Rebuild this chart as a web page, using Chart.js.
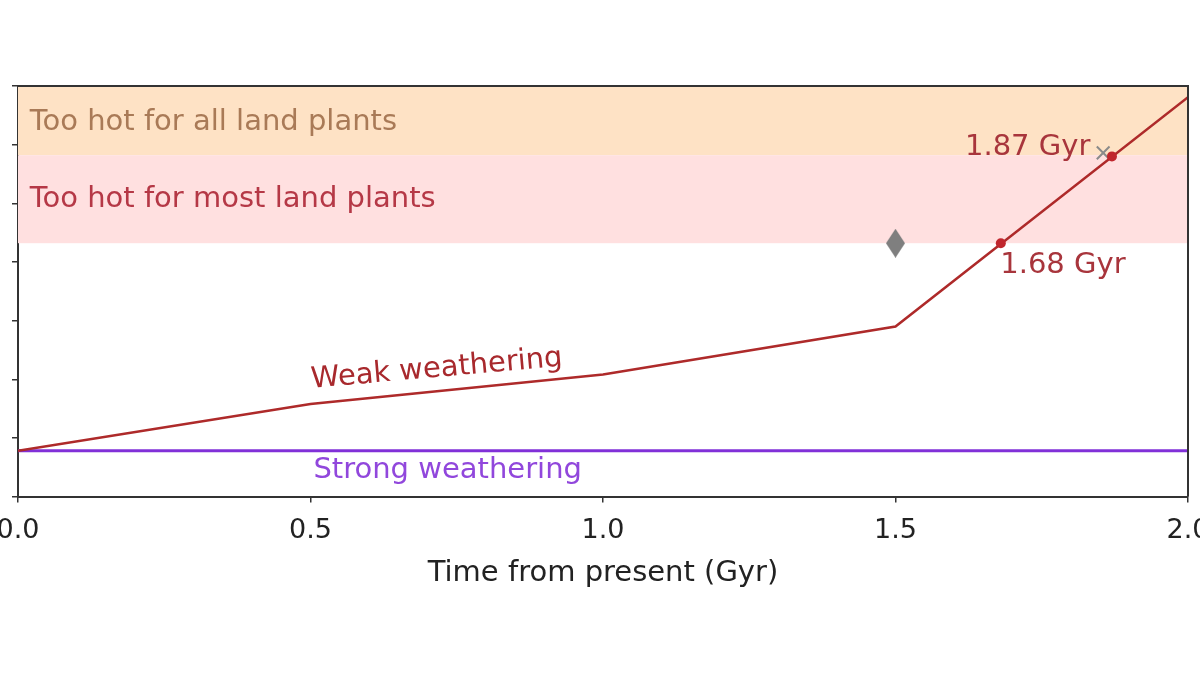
<!DOCTYPE html>
<html>
<head>
<meta charset="utf-8">
<script src="https://cdn.jsdelivr.net/npm/chart.js@4.4.1/dist/chart.umd.min.js"></script>
<style>
  html, body { margin: 0; padding: 0; background: #fff; overflow: hidden; }
  body { width: 1200px; height: 675px; position: relative; }
  /* canvas is wider than the window so the y labels fall off the left edge, like the cropped original */
  #wrap { position: absolute; left: -60px; top: 0; width: 1320px; height: 675px; }
</style>
</head>
<body>
<div id="wrap"><canvas id="chart"></canvas></div>
<script>
// Time from present (Gyr)
const timeGyr = [0, 0.5, 1.0, 1.5, 2.0];
// values in y tick units (the y labels are cropped out of the original)
const weakWeathering = [0.78, 1.58, 2.08, 2.90, 6.81];
const strongWeathering = [0.78, 0.78, 0.78, 0.78, 0.78];
// where weak weathering crosses the plant limits
const crossTimes = [1.68, 1.87];
const crossValues = [4.32, 5.80];
const diamondTime = [1.5];
const diamondValue = [4.32];
const crossMarkTime = [1.855];
const crossMarkValue = [5.86];
// band limits
const mostPlantsLimit = 4.32;
const allPlantsLimit = 5.82;
const yMax = 7;
const xTicks = [0, 0.5, 1.0, 1.5, 2.0];
const yTicks = [0, 1, 2, 3, 4, 5, 6, 7];

const FONT = '"DejaVu Sans", "Liberation Sans", sans-serif';

function pts(xs, ys) {
    return xs.map((x, i) => ({ x: x, y: ys[i] }));
}

// thin diamond marker (matplotlib 'd')
const diamond = document.createElement('canvas');
diamond.width = 19;
diamond.height = 29;
(function () {
    const c = diamond.getContext('2d');
    c.fillStyle = '#7f7f7f';
    c.beginPath();
    c.moveTo(9.5, 0);
    c.lineTo(19, 14.5);
    c.lineTo(9.5, 29);
    c.lineTo(0, 14.5);
    c.closePath();
    c.fill();
})();

const notes = [
    { text: 'Too hot for all land plants', x: 0.02, y: 6.37, color: '#a97a57', align: 'left', rot: 0 },
    { text: 'Too hot for most land plants', x: 0.02, y: 5.07, color: '#b53846', align: 'left', rot: 0 },
    { text: '1.87 Gyr', x: 1.833, y: 5.96, color: '#a8353c', align: 'right', rot: 0 },
    { text: '1.68 Gyr', x: 1.679, y: 3.94, color: '#a8353c', align: 'left', rot: 0 },
    { text: 'Weak weathering', x: 0.716, y: 2.17, color: '#a8292d', align: 'center', rot: -5 },
    { text: 'Strong weathering', x: 0.505, y: 0.44, color: '#9147dc', align: 'left', rot: 0 }
];

const bandsPlugin = {
    id: 'bands',
    beforeDatasetsDraw(chart) {
        const { ctx, chartArea, scales } = chart;
        const yAll = scales.y.getPixelForValue(allPlantsLimit);
        const yMost = scales.y.getPixelForValue(mostPlantsLimit);
        const yTop = scales.y.getPixelForValue(yMax);
        ctx.save();
        ctx.fillStyle = '#fee2c5';
        ctx.fillRect(chartArea.left, yTop, chartArea.right - chartArea.left, yAll - yTop);
        ctx.fillStyle = '#ffe0e0';
        ctx.fillRect(chartArea.left, yAll, chartArea.right - chartArea.left, yMost - yAll);
        ctx.restore();
    },
    afterDatasetsDraw(chart) {
        const { ctx, chartArea, scales } = chart;
        ctx.save();
        ctx.font = '29px ' + FONT;
        ctx.textBaseline = 'middle';
        notes.forEach(n => {
            ctx.save();
            ctx.translate(scales.x.getPixelForValue(n.x), scales.y.getPixelForValue(n.y));
            ctx.rotate(n.rot * Math.PI / 180);
            ctx.fillStyle = n.color;
            ctx.textAlign = n.align;
            ctx.fillText(n.text, 0, 0);
            ctx.restore();
        });
        // top and right spines
        ctx.strokeStyle = '#333';
        ctx.lineWidth = 2;
        ctx.beginPath();
        ctx.moveTo(chartArea.left, chartArea.top);
        ctx.lineTo(chartArea.right, chartArea.top);
        ctx.lineTo(chartArea.right, chartArea.bottom);
        ctx.stroke();
        ctx.restore();
    }
};

const ctx = document.getElementById('chart').getContext('2d');
new Chart(ctx, {
    type: 'scatter',
    data: {
        datasets: [
            {
                data: pts(crossTimes, crossValues),
                pointStyle: 'circle',
                pointRadius: 5,
                pointBackgroundColor: '#c0262d',
                pointBorderWidth: 0
            },
            {
                data: pts(timeGyr, weakWeathering),
                showLine: true,
                borderColor: '#ae2a2a',
                borderWidth: 2.5,
                pointRadius: 0
            },
            {
                data: pts(crossMarkTime, crossMarkValue),
                pointStyle: 'crossRot',
                pointRadius: 9,
                pointBorderColor: '#8a8a8a',
                pointBorderWidth: 2
            },
            {
                data: pts(diamondTime, diamondValue),
                pointStyle: diamond
            },
            {
                data: pts(timeGyr, strongWeathering),
                showLine: true,
                borderColor: '#8130d8',
                borderWidth: 3,
                pointRadius: 0
            }
        ]
    },
    options: {
        responsive: true,
        maintainAspectRatio: false,
        animation: false,
        layout: {
            padding: { left: 72, right: 72, top: 86, bottom: 87 }
        },
        plugins: {
            legend: { display: false },
            tooltip: { enabled: false }
        },
        scales: {
            x: {
                type: 'linear',
                min: 0,
                max: 2,
                afterBuildTicks: s => { s.ticks = xTicks.map(v => ({ value: v })); },
                grid: {
                    drawOnChartArea: false,
                    drawTicks: true,
                    tickLength: 6,
                    color: '#333',
                    lineWidth: 1.5
                },
                border: { display: true, color: '#333', width: 2 },
                ticks: {
                    color: '#222',
                    font: { family: FONT, size: 27 },
                    padding: 12,
                    maxRotation: 0,
                    callback: v => Number(v).toFixed(1)
                },
                title: {
                    display: true,
                    text: 'Time from present (Gyr)',
                    color: '#222',
                    font: { family: FONT, size: 29, lineHeight: 1.0 },
                    padding: { top: 0, bottom: 0 }
                }
            },
            y: {
                type: 'linear',
                min: 0,
                max: yMax,
                afterBuildTicks: s => { s.ticks = yTicks.map(v => ({ value: v })); },
                grid: {
                    drawOnChartArea: false,
                    drawTicks: true,
                    tickLength: 6,
                    color: '#333',
                    lineWidth: 1.5
                },
                border: { display: true, color: '#333', width: 2 },
                ticks: { display: false }
            }
        }
    },
    plugins: [bandsPlugin]
});
</script>
</body>
</html>
